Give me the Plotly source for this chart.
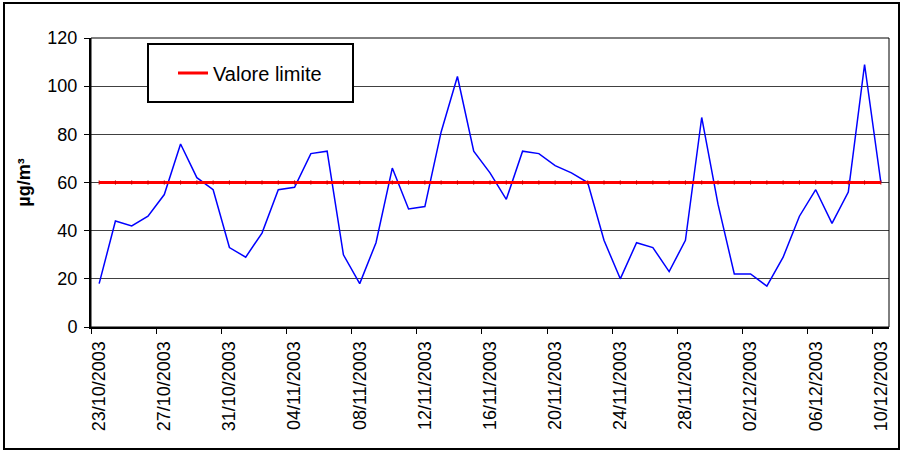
"""Daily concentration vs limit value, 23/10/2003 - 10/12/2003."""

import pandas as pd
import plotly.graph_objects as go

# Categories: one per day
dates = pd.date_range("2003-10-23", "2003-12-10", freq="D").strftime("%d/%m/%Y").tolist()

concentration = [
    18, 44, 42, 46, 55, 76, 62, 57, 33, 29, 39, 57, 58, 72, 73, 30, 18,
    35, 66, 49, 50, 81, 104, 73, 64, 53, 73, 72, 67, 64, 60, 36, 20,
    35, 33, 23, 36, 87, 51, 22, 22, 17, 29, 46, 57, 43, 56, 109, 60,
]

limit_value = 60
limit = [limit_value] * len(dates)

FONT = "Arial, Liberation Sans, sans-serif"

fig = go.Figure()

fig.add_trace(go.Scatter(
    x=dates, y=concentration, mode="lines", showlegend=False,
    line=dict(color="#0000ff", width=1.5), name="Concentrazione",
))
fig.add_trace(go.Scatter(
    x=dates, y=limit, mode="lines", name="Valore limite",
    line=dict(color="#ff0000", width=3),
))
# small point marks on the limit line (not in the legend)
fig.add_trace(go.Scatter(
    x=dates, y=limit, mode="markers", showlegend=False, hoverinfo="skip",
    marker=dict(symbol="line-ns", size=3, line=dict(color="#c80000", width=1)),
))

# plot area: x 91..889, y 38..327 in a 902x452 figure
ML, MR, MT, MB = 91, 13, 38, 125
W, H = 902, 452
pw, ph = W - ML - MR, H - MT - MB


def px_x(p):
    return (p - ML) / pw


def px_y(p):
    return (H - MB - p) / ph


shapes = [
    # outer chart frame
    dict(type="rect", xref="paper", yref="paper",
         x0=px_x(4), x1=px_x(899), y0=px_y(449), y1=px_y(3),
         line=dict(color="black", width=2), layer="below"),
    # plot area frame
    dict(type="rect", xref="paper", yref="paper", x0=0, x1=1, y0=0, y1=1,
         line=dict(color="black", width=1), layer="above"),
    # legend frame
    dict(type="rect", xref="paper", yref="paper",
         x0=px_x(148), x1=px_x(353), y0=px_y(102), y1=px_y(44),
         line=dict(color="black", width=2), fillcolor="white", layer="above"),
]

fig.update_layout(
    width=W, height=H,
    margin=dict(l=ML, r=MR, t=MT, b=MB),
    paper_bgcolor="white", plot_bgcolor="white",
    font=dict(family=FONT, size=18, color="black"),
    shapes=shapes,
    legend=dict(
        x=px_x(173), y=px_y(73), xanchor="left", yanchor="middle",
        bgcolor="rgba(0,0,0,0)", borderwidth=0,
        font=dict(size=20, family=FONT),
    ),
)

fig.update_xaxes(
    type="category", range=[-0.5, len(dates) - 0.5],
    tickmode="linear", tick0=0, dtick=4, tickson="boundaries",
    ticks="outside", ticklen=5, tickcolor="black", ticklabelstandoff=5,
    tickangle=-90, tickfont=dict(size=18),
    showgrid=False, showline=True, linecolor="black", linewidth=2,
    zeroline=False,
)
fig.update_yaxes(
    range=[0, 120], dtick=20,
    ticks="outside", ticklen=5, tickcolor="black", ticklabelstandoff=3,
    tickfont=dict(size=18),
    showgrid=True, gridcolor="#404040", gridwidth=1,
    showline=True, linecolor="black", linewidth=2, zeroline=False,
    title=dict(text="<b>µg/m³</b>", font=dict(size=18), standoff=12),
)

fig.write_html(
    "out.html",
    config={"displayModeBar": False},
    post_script="document.body.style.margin='0';",
)
